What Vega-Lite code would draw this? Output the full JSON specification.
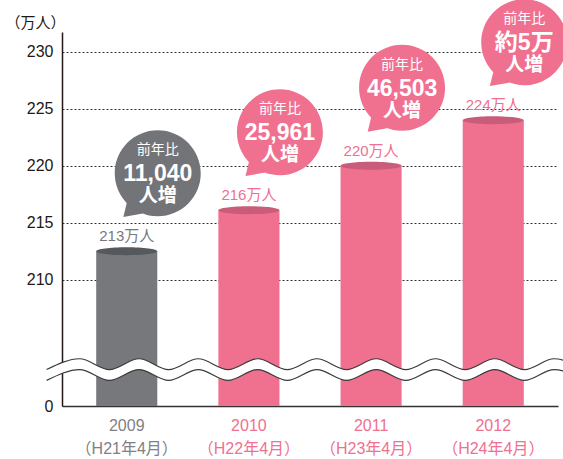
{
  "$schema": "https://vega.github.io/schema/vega-lite/v6.json",
  "width": 496,
  "height": 374,
  "autosize": {"type": "none"},
  "padding": {"left": 62, "top": 32, "right": 5, "bottom": 53},
  "config": {"view": {"stroke": null}, "font": "Liberation Sans, Noto Sans CJK JP"},
  "datasets": {
    "bars": [
      {"period": "2009（H21年4月）", "value": 212.5, "label": "213万人", "l1": "前年比", "l2": "11,040", "l3": "人増"},
      {"period": "2010（H22年4月）", "value": 216.1, "label": "216万人", "l1": "前年比", "l2": "25,961", "l3": "人増"},
      {"period": "2011（H23年4月）", "value": 220.0, "label": "220万人", "l1": "前年比", "l2": "46,503", "l3": "人増"},
      {"period": "2012（H24年4月）", "value": 224.0, "label": "224万人", "l1": "前年比", "l2": "約5万", "l3": "人増"}
    ],
    "wave": [
      {"x": -3.1, "upper": 202.1, "lower": 201.15},
      {"x": 3.57, "upper": 203.05, "lower": 202.1},
      {"x": 9.55, "upper": 202.1, "lower": 201.15},
      {"x": 15.52, "upper": 203.05, "lower": 202.1},
      {"x": 21.5, "upper": 202.1, "lower": 201.15},
      {"x": 27.48, "upper": 203.05, "lower": 202.1},
      {"x": 33.46, "upper": 202.1, "lower": 201.15},
      {"x": 39.44, "upper": 203.05, "lower": 202.1},
      {"x": 45.41, "upper": 202.1, "lower": 201.15},
      {"x": 51.39, "upper": 203.05, "lower": 202.1},
      {"x": 57.37, "upper": 202.1, "lower": 201.15},
      {"x": 63.35, "upper": 203.05, "lower": 202.1},
      {"x": 69.33, "upper": 202.1, "lower": 201.15},
      {"x": 75.3, "upper": 203.05, "lower": 202.1},
      {"x": 81.28, "upper": 202.1, "lower": 201.15},
      {"x": 87.26, "upper": 203.05, "lower": 202.1},
      {"x": 93.24, "upper": 202.1, "lower": 201.15},
      {"x": 99.21, "upper": 203.05, "lower": 202.1},
      {"x": 105.2, "upper": 202.1, "lower": 201.15}
    ]
  },
  "layer": [
    {
      "data": {"name": "bars"},
      "encoding": {
        "x": {
          "field": "period", "type": "nominal", "sort": null,
          "scale": {"paddingInner": 0.5, "paddingOuter": 0.28},
          "axis": {
            "title": null,
            "labelExpr": "[slice(datum.value, 0, 4), slice(datum.value, 4)]",
            "labelAngle": 0,
            "ticks": false,
            "labelPadding": 11,
            "labelFontSize": 16,
            "labelLineHeight": 23,
            "labelColor": {"condition": {"test": "slice(datum.value, 0, 4) == '2009'", "value": "#808184"}, "value": "#ef7090"},
            "domainColor": "#333333",
            "domainWidth": 1.5
          }
        },
        "y": {
          "field": "value", "type": "quantitative",
          "scale": {"domain": [198.9, 231.75], "nice": false, "zero": false},
          "axis": {
            "values": [198.9, 210, 215, 220, 225, 230],
            "labelExpr": "datum.value < 200 ? '0' : datum.label",
            "title": "（万人）",
            "titleAngle": 0, "titleAlign": "left", "titleBaseline": "middle",
            "titleX": -57, "titleY": -10,
            "titleFontSize": 15, "titleFontWeight": "normal", "titleColor": "#231815",
            "titleFont": "Noto Sans CJK JP",
            "ticks": false, "labelPadding": 9, "labelFontSize": 16, "labelColor": "#231815",
            "domainColor": "#231815", "domainWidth": 1.5,
            "grid": true, "gridColor": "#333333", "gridDash": [2, 2], "gridWidth": 1,
            "gridOpacity": {"condition": {"test": "datum.value < 200", "value": 0}, "value": 1}
          }
        }
      },
      "layer": [
        {
          "mark": {"type": "bar"},
          "encoding": {
            "y2": {"datum": 198.9},
            "color": {"condition": {"test": "indexof(datum.period, '2009') == 0", "value": "#77787b"}, "value": "#f07090"}
          }
        },
        {
          "mark": {"type": "point", "shape": "M-1,0C-1,-0.072,-0.552,-0.13,0,-0.13C0.552,-0.13,1,-0.072,1,0C1,0.072,0.552,0.13,0,0.13C-0.552,0.13,-1,0.072,-1,0Z", "size": 3721, "filled": true, "opacity": 1, "strokeWidth": 0},
          "encoding": {
            "color": {"condition": {"test": "indexof(datum.period, '2009') == 0", "value": "#55585c"}, "value": "#c95c78"}
          }
        },
        {
          "mark": {"type": "text", "baseline": "alphabetic", "dy": -10, "fontSize": 15},
          "encoding": {
            "text": {"field": "label"},
            "color": {"condition": {"test": "indexof(datum.period, '2009') == 0", "value": "#77787b"}, "value": "#ef7090"}
          }
        },
        {
          "mark": {"type": "point", "shape": "M1,0C1,0.552,0.552,1,0,1C-0.552,1,-1,0.552,-1,0C-1,-0.552,-0.552,-1,0,-1C0.552,-1,1,-0.552,1,0ZM-0.72,0.69L-0.35,0.94L-0.8,1.02Z", "size": 7396, "filled": true, "opacity": 1, "strokeWidth": 0, "xOffset": 31, "yOffset": -78},
          "encoding": {
            "color": {"condition": {"test": "indexof(datum.period, '2009') == 0", "value": "#737477"}, "value": "#f07090"}
          }
        },
        {
          "mark": {"type": "text", "baseline": "middle", "dx": 31, "dy": -101, "fontSize": 14, "fill": "white", "font": "Noto Sans CJK JP"},
          "encoding": {"text": {"field": "l1"}}
        },
        {
          "mark": {"type": "text", "baseline": "middle", "dx": 31, "dy": -77, "fontSize": 23, "fontWeight": "bold", "fill": "white"},
          "encoding": {"text": {"field": "l2"}}
        },
        {
          "mark": {"type": "text", "baseline": "middle", "dx": 31, "dy": -55, "fontSize": 19, "fontWeight": "bold", "fill": "white", "font": "Noto Sans CJK JP"},
          "encoding": {"text": {"field": "l3"}}
        }
      ]
    },
    {
      "data": {"name": "wave"},
      "encoding": {
        "x": {"field": "x", "type": "quantitative", "scale": {"domain": [0, 100], "nice": false, "zero": false}, "axis": null}
      },
      "layer": [
        {
          "mark": {"type": "area", "interpolate": "monotone", "fill": "white", "opacity": 1},
          "encoding": {
            "y": {"field": "upper", "type": "quantitative", "axis": null},
            "y2": {"field": "lower"}
          }
        },
        {
          "mark": {"type": "line", "interpolate": "monotone", "stroke": "#3a3a3a", "strokeWidth": 1.2},
          "encoding": {
            "y": {"field": "upper", "type": "quantitative", "axis": null}
          }
        },
        {
          "mark": {"type": "line", "interpolate": "monotone", "stroke": "#3a3a3a", "strokeWidth": 1.2},
          "encoding": {
            "y": {"field": "lower", "type": "quantitative", "axis": null}
          }
        }
      ]
    }
  ],
  "resolve": {"scale": {"x": "independent"}, "axis": {"y": "independent"}}
}
